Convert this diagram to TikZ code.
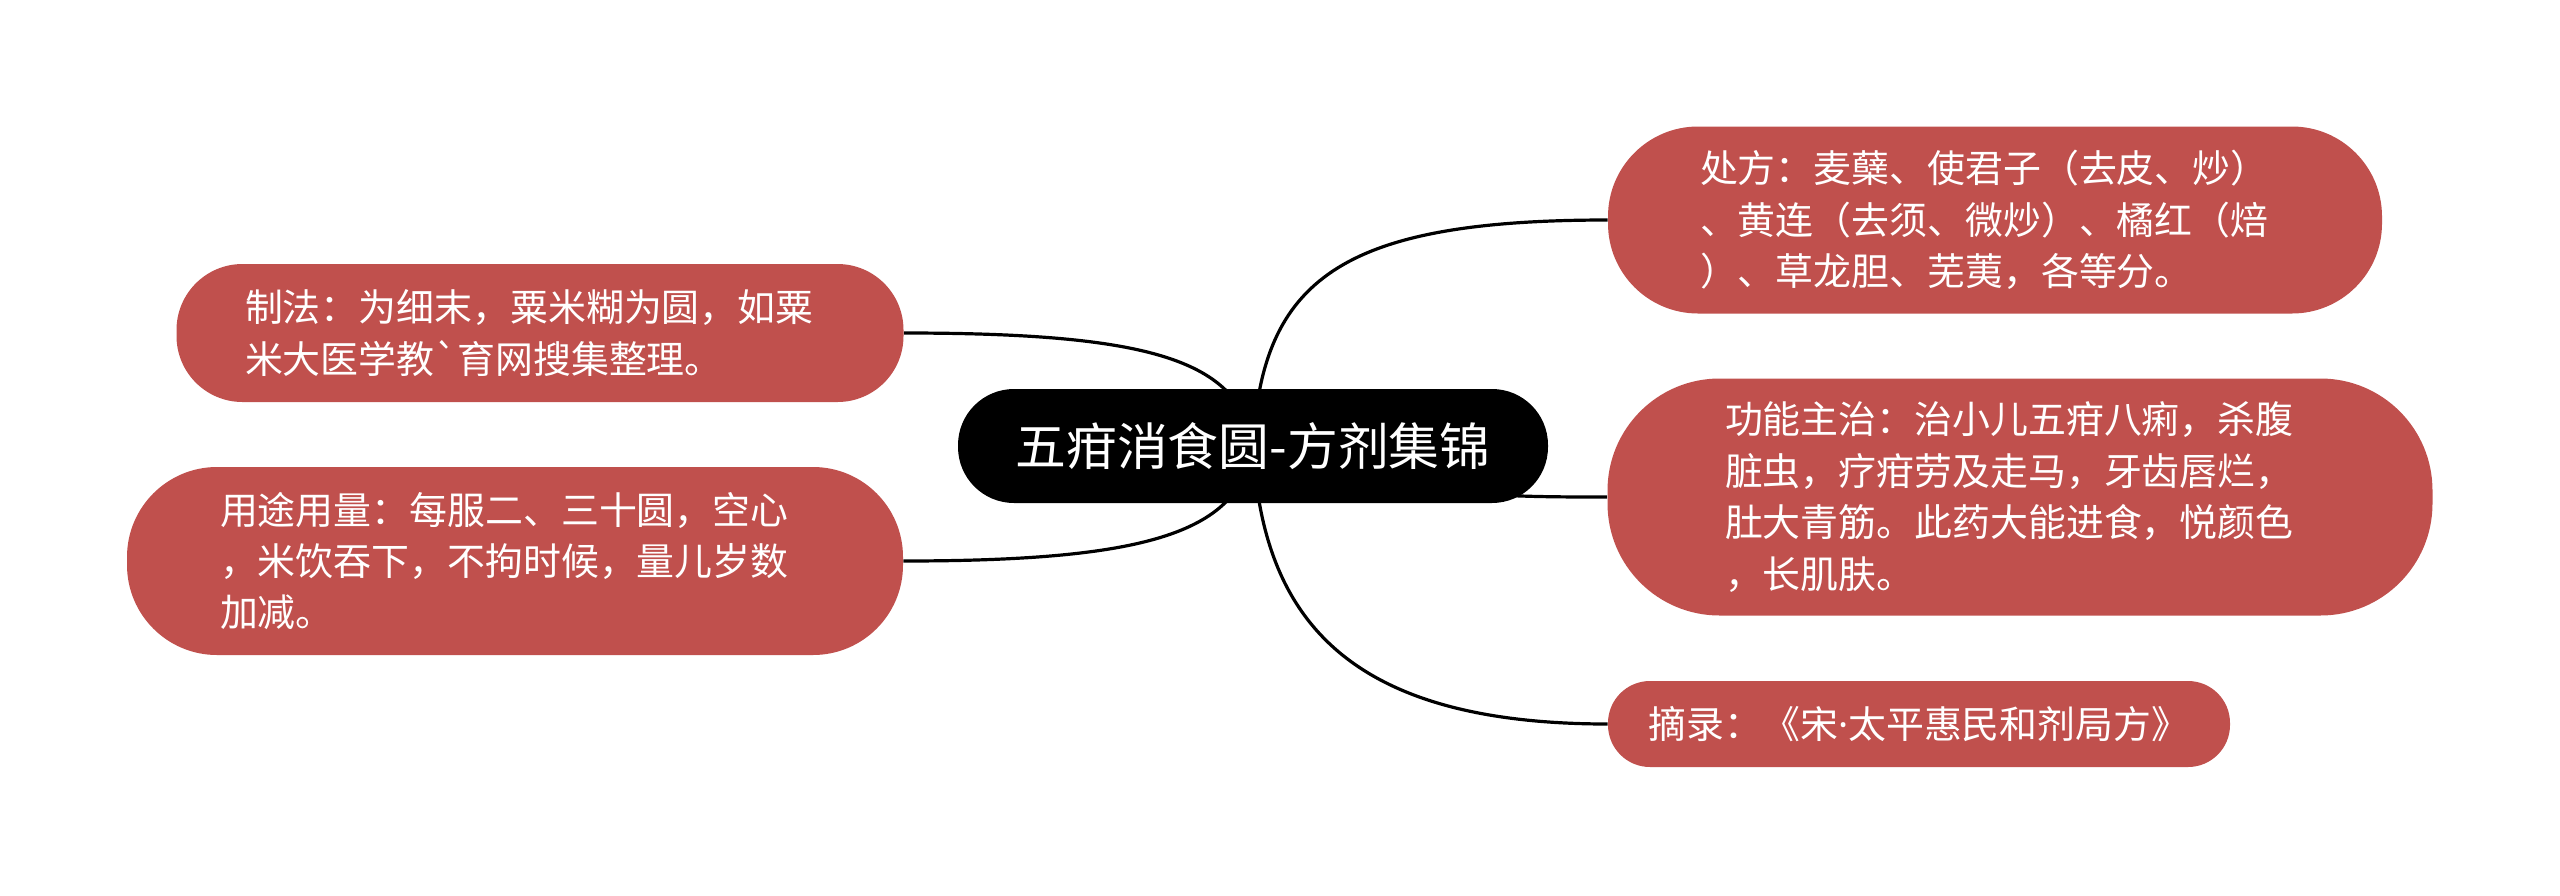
\documentclass[tikz,border=0pt]{standalone}
\usepackage{fontspec}
\setmainfont{Noto Sans CJK SC}[Ligatures=TeXOff]
\newfontfamily\latinfont{Noto Sans}
\usetikzlibrary{backgrounds}
\definecolor{nodered}{RGB}{192,80,77}
\tikzset{
  topic/.style={fill=black, text=white, rounded corners=28pt, inner sep=0pt,
    minimum width=295pt, minimum height=57pt, font=\fontsize{25.4}{30}\selectfont},
  sub/.style={fill=nodered, text=white, inner sep=0pt, align=left,
    font=\fontsize{18.95}{25.7}\selectfont},
  wide/.style={text width=295pt},
  link/.style={draw=black, line width=1.6pt}
}
\begin{document}
\begin{tikzpicture}[x=0.5pt, y=-0.5pt]
\useasboundingbox (0,0) rectangle (2560,895);
\node[topic] (c) at (1253,446) {五疳消食圆-方剂集锦};
\node[sub, wide, minimum width=387pt, minimum height=93.5pt, rounded corners=45pt] (chufa) at (1995,220)
  {处方：麦蘖、使君子（去皮、炒）\\、黄连（去须、微炒）、橘红（焙\\）、草龙胆、芜荑，各等分。};
\node[sub, wide, minimum width=412.5pt, minimum height=118.5pt, rounded corners=56pt] (gong) at (2020,497)
  {功能主治：治小儿五疳八痢，杀腹\\脏虫，疗疳劳及走马，牙齿唇烂，\\肚大青筋。此药大能进食，悦颜色\\，长肌肤。};
\node[sub, minimum width=311pt, minimum height=43pt, rounded corners=21pt] (zhai) at (1919,724)
  {摘录：《宋{\latinfont ·}太平惠民和剂局方》};
\node[sub, wide, minimum width=363.5pt, minimum height=69pt, rounded corners=33pt] (zhifa) at (540,333)
  {制法：为细末，粟米糊为圆，如粟\\米大医学教`育网搜集整理。};
\node[sub, wide, minimum width=388pt, minimum height=94pt, rounded corners=45pt] (yong) at (515,561)
  {用途用量：每服二、三十圆，空心\\，米饮吞下，不拘时候，量儿岁数\\加减。};
\begin{pgfonlayer}{background}
\draw[link] (c.center) .. controls (1262,280) and (1340,220) .. (chufa.west);
\draw[link] (c.center) .. controls (1400,497) and (1500,497) .. (gong.west);
\draw[link] (c.center) .. controls (1262,612) and (1340,724) .. (zhai.west);
\draw[link] (c.center) .. controls (1240,360) and (1150,333) .. (zhifa.east);
\draw[link] (c.center) .. controls (1240,532) and (1150,561) .. (yong.east);
\end{pgfonlayer}
\end{tikzpicture}
\end{document}
